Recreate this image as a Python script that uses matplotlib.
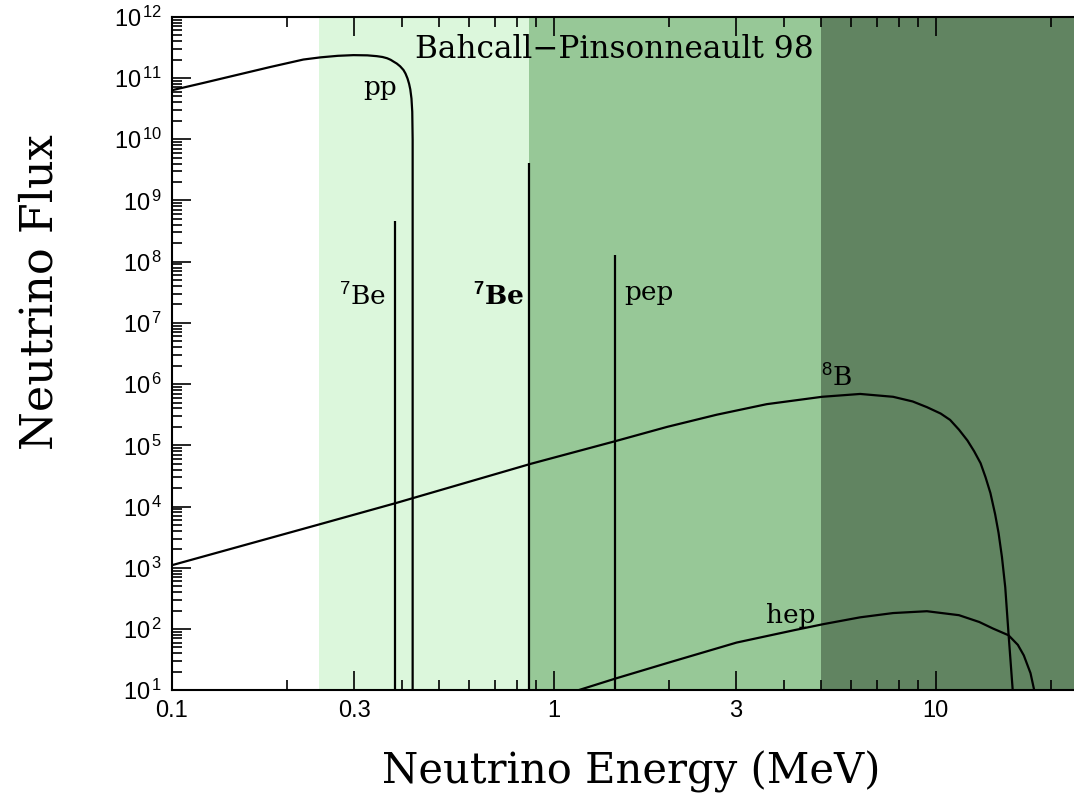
import matplotlib
matplotlib.use("Agg")
import matplotlib.pyplot as plt
from matplotlib.ticker import FixedLocator, NullFormatter, LogLocator

# pp continuum (MeV, flux)
pp_energy = [0.1, 0.121, 0.148, 0.181, 0.221, 0.245, 0.272, 0.299, 0.325, 0.344, 0.356, 0.366,
             0.374, 0.38, 0.388, 0.396, 0.404, 0.409, 0.414, 0.418, 0.421, 0.424, 0.426,
             0.427, 0.427]
pp_flux = [6.3e10, 8.3e10, 1.12e11, 1.51e11, 2.0e11, 2.17e11, 2.3e11, 2.36e11, 2.34e11, 2.27e11,
           2.2e11, 2.1e11, 1.98e11, 1.86e11, 1.72e11, 1.55e11, 1.35e11, 1.18e11, 9.8e10,
           8.0e10, 6.5e10, 4.6e10, 2.8e10, 9.8e9, 5.0]

# 8B continuum
b8_energy = [0.1, 0.243, 0.388, 0.872, 1.45, 1.98, 2.67, 3.61, 5.04, 6.34, 7.73, 8.7, 9.48,
             10.3, 10.9, 11.5, 12.1, 12.6, 13.1, 13.5, 13.9, 14.3, 14.6, 14.9, 15.2, 15.5, 15.9]
b8_flux = [1.1e3, 5.1e3, 1.15e4, 5.0e4, 1.17e5, 2.0e5, 3.16e5, 4.7e5, 6.2e5, 6.9e5, 6.2e5, 5.2e5,
           4.2e5, 3.3e5, 2.6e5, 1.8e5, 1.2e5, 8.0e4, 5.1e4, 3.0e4, 1.66e4, 7.5e3, 3.7e3, 1.5e3,
           480, 85, 10]

# hep continuum
hep_energy = [1.16, 1.45, 2.02, 3.01, 4.24, 5.08, 6.34, 7.73, 9.48, 11.5, 13.0, 14.1,
              15.5, 16.4, 17.0, 17.7, 18.1]
hep_flux = [10, 15.5, 28.8, 60, 95, 120, 155, 182, 195, 168, 130, 102, 79, 55, 37, 19, 10]

# line sources
line_energy = [0.384, 0.862, 1.442]
line_flux = [4.6e8, 4.1e9, 1.3e8]

# detector threshold bands (MeV)
band_edges = [0.243, 0.862, 5.0, 40.0]
band_colors = ["#dcf7dc", "#97c897", "#618461"]

xtick_vals = [0.1, 0.3, 1, 3, 10]
xtick_labels = ["0.1", "0.3", "1", "3", "10"]
ytick_vals = [10.0**k for k in range(1, 13)]

plt.rcParams["mathtext.fontset"] = "custom"
plt.rcParams["mathtext.rm"] = "Liberation Sans"
plt.rcParams["mathtext.it"] = "Liberation Sans"
plt.rcParams["mathtext.bf"] = "Liberation Sans:bold"

fig = plt.figure(figsize=(10.74, 7.97), dpi=100)
ax = fig.add_axes([0.16, 0.134, 0.881, 0.845])

for i, c in enumerate(band_colors):
    ax.axvspan(band_edges[i], band_edges[i + 1], color=c, lw=0, zorder=0)

ax.plot(pp_energy, pp_flux, color="black", lw=1.6)
ax.plot(b8_energy, b8_flux, color="black", lw=1.6)
ax.plot(hep_energy, hep_flux, color="black", lw=1.6)
ax.vlines(line_energy, 1, line_flux, color="black", lw=1.6)

ax.set_xscale("log")
ax.set_yscale("log")
ax.set_xlim(0.1, 30)
ax.set_ylim(10, 1e12)

ax.xaxis.set_major_locator(FixedLocator(xtick_vals))
ax.set_xticklabels(xtick_labels)
ax.xaxis.set_minor_locator(FixedLocator([0.2, 0.4, 0.5, 0.6, 0.7, 0.8, 0.9, 2, 4, 5, 6, 7, 8, 9, 20]))
ax.xaxis.set_minor_formatter(NullFormatter())
ax.yaxis.set_major_locator(FixedLocator(ytick_vals))
ax.set_yticklabels([r"$10^{\,%d}$" % k for k in range(1, 13)])
ax.yaxis.set_minor_locator(LogLocator(base=10, subs=range(2, 10), numticks=100))
ax.yaxis.set_minor_formatter(NullFormatter())

ax.tick_params(which="both", direction="in", top=True, right=False, width=1.2)
ax.tick_params(which="major", length=14, labelsize=17, pad=7)
ax.tick_params(which="minor", length=7)
for lab in ax.get_xticklabels() + ax.get_yticklabels():
    lab.set_family("Liberation Sans")
for s in ax.spines.values():
    s.set_linewidth(1.5)

serif = "DejaVu Serif"
ax.text(1.44, 10**11.47, "Bahcall\u2212Pinsonneault 98", family=serif, fontsize=22.5,
        ha="center", va="center")
ax.text(0.351, 10**10.84, "pp", family=serif, fontsize=19, ha="center", va="center")
ax.text(0.315, 10**7.42, r"$^{7}$Be", family=serif, fontsize=19, ha="center", va="center")
ax.text(0.715, 10**7.42, r"$^{\mathbf{7}}$Be", family=serif, fontsize=19, fontweight="bold",
        ha="center", va="center")
ax.text(1.77, 10**7.5, "pep", family=serif, fontsize=19, ha="center", va="center")
ax.text(5.48, 10**6.1, r"$^{8}$B", family=serif, fontsize=19, ha="center", va="center")
ax.text(4.16, 10**2.22, "hep", family=serif, fontsize=19, ha="center", va="center")

fig.text(0.588, 0.031, "Neutrino Energy (MeV)", family=serif, fontsize=30,
         ha="center", va="center")
fig.text(0.037, 0.633, "Neutrino Flux", family=serif, fontsize=32, rotation=90,
         ha="center", va="center")

fig.savefig("out.png", dpi=100)
